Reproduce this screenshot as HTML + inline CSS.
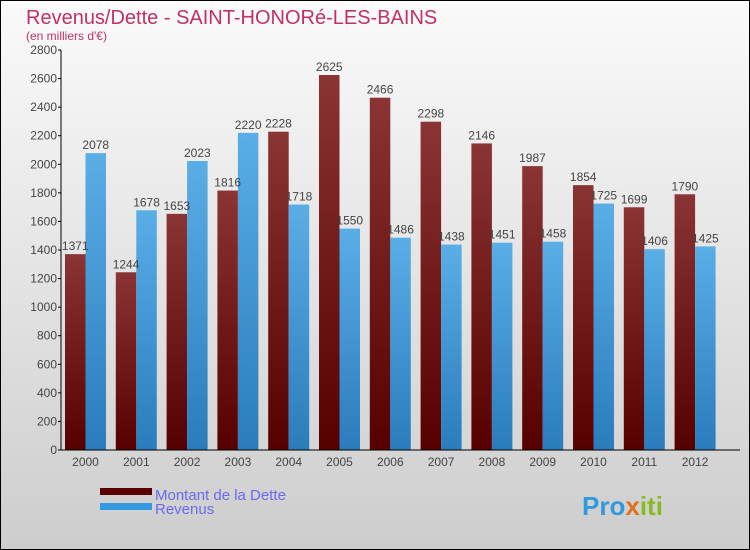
<!DOCTYPE html>
<html><head><meta charset="utf-8"><style>
html,body{margin:0;padding:0}
body{width:750px;height:550px;overflow:hidden;font-family:"Liberation Sans",sans-serif}
#wrap{position:absolute;left:0;top:0;width:748px;height:548px;border:1px solid #000;background:linear-gradient(#fafafa,#cdcdcd)}
</style></head><body>
<div id="wrap">
<svg id="chart" width="750" height="550" style="position:absolute;left:-1px;top:-1px">
<defs>
<linearGradient id="gd" x1="0" y1="0" x2="0" y2="1"><stop offset="0" stop-color="#8a3434"/><stop offset="1" stop-color="#560000"/></linearGradient>
<linearGradient id="gr" x1="0" y1="0" x2="0" y2="1"><stop offset="0" stop-color="#5aaee6"/><stop offset="1" stop-color="#2a7cbc"/></linearGradient>
</defs>
<text x="26" y="24" font-size="20" fill="#c0306a">Revenus/Dette - SAINT-HONORé-LES-BAINS</text>
<text x="26" y="40" font-size="12" fill="#c0306a">(en milliers d'€)</text>
<g id="grid"></g><g id="bars"></g><g id="axes"></g>
<rect x="100" y="488" width="52" height="7" fill="#5a0000"/>
<rect x="100" y="503" width="52" height="7" fill="#3399e0"/>
<text x="155" y="500" font-size="15" fill="#6a6aee">Montant de la Dette</text>
<text x="155" y="514" font-size="15" fill="#6a6aee">Revenus</text>
<text x="582" y="515" font-size="26" font-weight="bold" fill="#3399dd">Pro<tspan fill="#e07020">x</tspan><tspan fill="#88bb22">iti</tspan></text>
</svg>
</div>
<script>
const years=["2000","2001","2002","2003","2004","2005","2006","2007","2008","2009","2010","2011","2012"];
const dette=[1371,1244,1653,1816,2228,2625,2466,2298,2146,1987,1854,1699,1790];
const revenus=[2078,1678,2023,2220,1718,1550,1486,1438,1451,1458,1725,1406,1425];
const yTicks=[0,200,400,600,800,1000,1200,1400,1600,1800,2000,2200,2400,2600,2800];
const NS="http://www.w3.org/2000/svg";
const x0=61,yTop=50,yBot=450,yMax=2800,step=50.8,bw=20.5,first=65;
const y=v=>yBot-(v/yMax)*(yBot-yTop);
function mk(t,a,p){const e=document.createElementNS(NS,t);for(const k in a)e.setAttribute(k,a[k]);p.appendChild(e);return e;}
const bars=document.getElementById('bars'),axes=document.getElementById('axes');
years.forEach((yr,i)=>{
 const xd=first+i*step,xr=xd+bw;
 const r1=mk('rect',{x:xd,y:y(dette[i]),width:bw,height:yBot-y(dette[i]),fill:'url(#gd)'},bars);
 
 
 const r2=mk('rect',{x:xr,y:y(revenus[i]),width:bw,height:yBot-y(revenus[i]),fill:'url(#gr)'},bars);
 
 
 const t1=mk('text',{x:xd+bw/2,y:y(dette[i])-4,'font-size':12,fill:'#444','text-anchor':'middle'},bars);t1.textContent=dette[i];
 
 
 const t2=mk('text',{x:xr+bw/2,y:y(revenus[i])-4,'font-size':12,fill:'#444','text-anchor':'middle'},bars);t2.textContent=revenus[i];
 
 
 const tx=mk('text',{x:xd+bw,y:466,'font-size':12,fill:'#444','text-anchor':'middle'},axes);tx.textContent=yr;
 
 
});
yTicks.forEach(v=>{
 mk('line',{x1:x0-3,x2:x0,y1:y(v),y2:y(v),stroke:'#000'},axes);
 const t=mk('text',{x:x0-4,y:y(v)+4,'font-size':12,fill:'#444','text-anchor':'end'},axes);t.textContent=v;
 
 
});
const ya=mk('line',{x1:x0,x2:x0,y1:yTop,y2:yBot,stroke:'#000'},axes);


const xa=mk('line',{x1:x0,x2:740,y1:yBot,y2:yBot,stroke:'#000'},axes);


</script>
</body></html>
